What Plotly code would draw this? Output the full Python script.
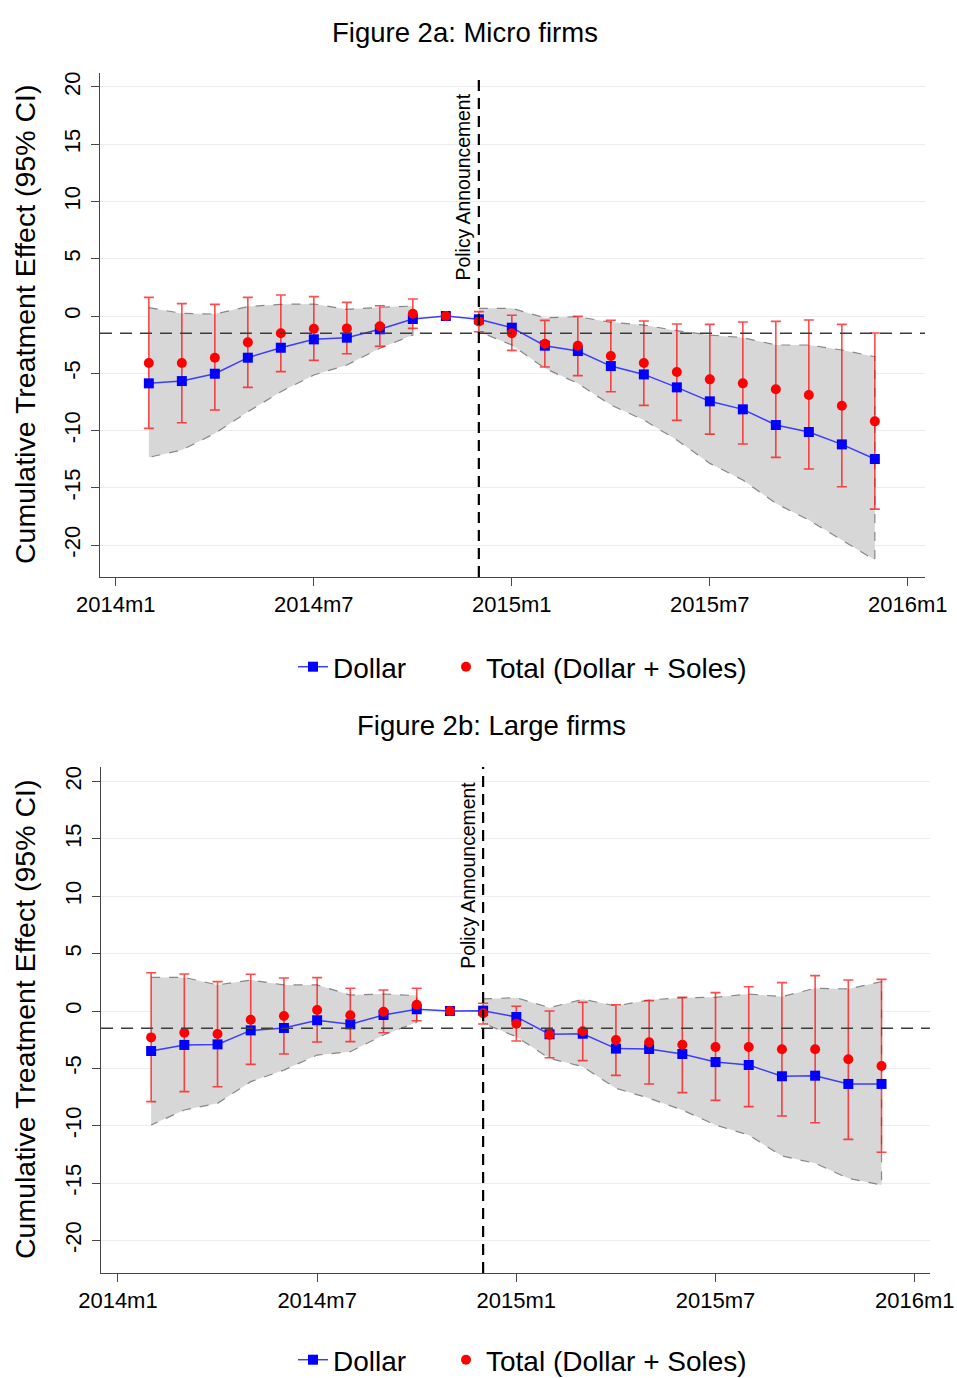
import plotly.graph_objects as go

# ---------------- data ----------------
months = ["2014m2", "2014m3", "2014m4", "2014m5", "2014m6", "2014m7", "2014m8",
          "2014m9", "2014m10", "2014m11", "2014m12", "2015m1", "2015m2", "2015m3",
          "2015m4", "2015m5", "2015m6", "2015m7", "2015m8", "2015m9", "2015m10",
          "2015m11", "2015m12"]
tick_labels = ["2014m1", "2014m7", "2015m1", "2015m7", "2016m1"]
y_ticks = [-20, -15, -10, -5, 0, 5, 10, 15, 20]
policy_month = "2014m12"
policy_label = "Policy Announcement"
ref_line_value = -1.5

# Figure 2a: Micro firms
micro_dollar = [-5.88, -5.68, -5.04, -3.64, -2.77, -2.04, -1.89, -1.16, -0.26, 0.0,
                -0.29, -1.02, -2.59, -3.06, -4.37, -5.10, -6.23, -7.45, -8.15, -9.52,
                -10.13, -11.21, -12.49]
micro_dollar_lo = [-12.34, -11.70, -10.25, -8.36, -6.61, -5.15, -4.28, -2.82, -1.66, None,
                   -1.37, -2.53, -4.57, -5.88, -7.77, -9.08, -10.83, -12.87, -14.32, -16.36,
                   -17.82, -19.56, -21.31]
micro_dollar_hi = [0.73, 0.23, 0.17, 0.82, 1.02, 1.05, 0.58, 0.76, 0.87, None,
                   0.67, 0.67, -0.15, -0.06, -0.55, -0.79, -1.28, -1.66, -1.89, -2.53,
                   -2.53, -2.97, -3.55]
micro_total = [-4.10, -4.10, -3.64, -2.30, -1.51, -1.11, -1.08, -0.90, 0.20, 0.0,
               -0.47, -1.51, -2.42, -2.59, -3.49, -4.10, -4.89, -5.53, -5.88, -6.40,
               -6.90, -7.83, -9.20]
micro_total_lo = [-9.81, -9.32, -8.21, -6.23, -4.86, -3.87, -3.29, -2.65, -1.08, None,
                  -1.37, -3.00, -4.45, -5.21, -6.61, -7.80, -9.11, -10.31, -11.18, -12.34,
                  -13.36, -14.91, -16.86]
micro_total_hi = [1.63, 1.08, 1.02, 1.63, 1.83, 1.69, 1.19, 0.90, 1.48, None,
                  0.38, 0.06, -0.38, -0.03, -0.38, -0.44, -0.70, -0.73, -0.52, -0.47,
                  -0.35, -0.73, -1.48]

# Figure 2b: Large firms
large_dollar = [-3.49, -2.96, -2.91, -1.69, -1.48, -0.81, -1.16, -0.35, 0.15, 0.0,
                0.03, -0.52, -2.03, -1.98, -3.28, -3.31, -3.75, -4.45, -4.71, -5.69,
                -5.64, -6.36, -6.36]
large_dollar_lo = [-9.94, -8.63, -8.05, -6.16, -5.15, -3.84, -3.55, -2.09, -0.99, None,
                   -1.07, -2.24, -4.13, -4.85, -6.74, -7.61, -8.63, -9.94, -10.81, -12.64,
                   -13.28, -14.59, -15.17]
large_dollar_hi = [2.93, 2.93, 2.27, 2.70, 2.27, 2.27, 1.39, 1.48, 1.34, None,
                   1.05, 1.16, 0.29, 1.02, 0.44, 0.96, 1.16, 1.19, 1.48, 1.25,
                   1.98, 1.92, 2.56]
large_total = [-2.30, -1.89, -2.01, -0.76, -0.44, 0.09, -0.38, -0.06, 0.55, 0.0,
               -0.20, -1.11, -2.06, -1.77, -2.53, -2.73, -2.94, -3.14, -3.14, -3.34,
               -3.34, -4.21, -4.80]
large_total_lo = [-7.90, -7.03, -6.60, -4.65, -3.75, -2.70, -2.67, -1.89, -0.85, None,
                  -1.13, -2.62, -4.07, -4.33, -5.61, -6.36, -7.12, -7.79, -8.34, -9.15,
                  -9.74, -11.19, -12.32]
large_total_hi = [3.34, 3.23, 2.56, 3.20, 2.88, 2.91, 1.98, 1.83, 1.98, None,
                  0.67, 0.41, 0.00, 0.76, 0.55, 0.90, 1.19, 1.60, 2.12, 2.47,
                  3.08, 2.70, 2.76]

titles = ["Figure 2a: Micro firms", "Figure 2b: Large firms"]
y_title = "Cumulative Treatment Effect (95% CI)"
series_names = ["Dollar", "Total (Dollar + Soles)"]


def month_index(s):
    y, m = s.split("m")
    return (int(y) - 2014) * 12 + int(m) - 1


x = [month_index(m) for m in months]
tickvals = [month_index(t) for t in tick_labels]
x_policy = month_index(policy_month)

FONT = "Arial, Liberation Sans, sans-serif"
fig = go.Figure()


def segments(xs, lo, hi):
    segs, cur = [], []
    for xi, l, h in zip(xs, lo, hi):
        if l is None or h is None:
            if cur:
                segs.append(cur)
            cur = []
        else:
            cur.append((xi, l, h))
    if cur:
        segs.append(cur)
    return segs


panels = [
    dict(d=micro_dollar, dlo=micro_dollar_lo, dhi=micro_dollar_hi,
         t=micro_total, tlo=micro_total_lo, thi=micro_total_hi,
         xa="x", ya="y", legends=("legend", "legend3")),
    dict(d=large_dollar, dlo=large_dollar_lo, dhi=large_dollar_hi,
         t=large_total, tlo=large_total_lo, thi=large_total_hi,
         xa="x2", ya="y2", legends=("legend2", "legend4")),
]

for p in panels:
    # shaded CI band for Dollar
    for seg in segments(x, p["dlo"], p["dhi"]):
        xs = [s[0] for s in seg]
        los = [s[1] for s in seg]
        his = [s[2] for s in seg]
        fig.add_trace(go.Scatter(
            x=xs + xs[::-1], y=his + los[::-1], fill="toself",
            fillcolor="rgb(215,215,215)", mode="lines",
            line=dict(color="rgb(135,135,135)", width=1.2, dash="dash"),
            hoverinfo="skip", showlegend=False, xaxis=p["xa"], yaxis=p["ya"]))
    # error bars for Total
    plus = [None if h is None else h - v for v, h in zip(p["t"], p["thi"])]
    minus = [None if l is None else v - l for v, l in zip(p["t"], p["tlo"])]
    fig.add_trace(go.Scatter(
        x=x, y=p["t"], mode="markers",
        marker=dict(size=1, color="rgba(0,0,0,0)"),
        error_y=dict(type="data", array=plus, arrayminus=minus, symmetric=False,
                     color="rgba(255,0,0,0.7)", thickness=1.6, width=5),
        hoverinfo="skip", showlegend=False, xaxis=p["xa"], yaxis=p["ya"]))
    # Dollar line
    fig.add_trace(go.Scatter(
        x=x, y=p["d"], mode="lines+markers", name=series_names[0],
        line=dict(color="rgb(60,60,255)", width=1.5),
        marker=dict(symbol="square", size=10, color="rgb(0,0,255)"),
        legend=p["legends"][0], xaxis=p["xa"], yaxis=p["ya"]))
    # Total points
    fig.add_trace(go.Scatter(
        x=x, y=p["t"], mode="markers", name=series_names[1],
        marker=dict(symbol="circle", size=10, color="rgb(255,0,0)"),
        legend=p["legends"][1], xaxis=p["xa"], yaxis=p["ya"]))

W, H = 957, 1378
# pixel boxes of the two plot areas (left, right, top, bottom)
boxes = [(100, 925, 73, 577), (101, 930, 767, 1273)]
yranges = [[-22.79, 21.22], [-22.84, 21.27]]
xranges = [[-0.48, 24.52], [-0.51, 24.46]]

axis_common = dict(showline=True, linecolor="rgb(70,70,70)", linewidth=1,
                   ticks="outside", ticklen=8, tickcolor="rgb(70,70,70)",
                   tickfont=dict(family=FONT, size=22, color="black"),
                   automargin=False, zeroline=False)

layout = dict(width=W, height=H, margin=dict(l=0, r=0, t=0, b=0, autoexpand=False),
              paper_bgcolor="white", plot_bgcolor="white",
              font=dict(family=FONT, color="black"))

for i, (l, r, t, b) in enumerate(boxes):
    sfx = "" if i == 0 else str(i + 1)
    layout["xaxis" + sfx] = dict(axis_common, domain=[l / W, r / W], range=xranges[i],
                                 tickvals=tickvals, ticktext=tick_labels,
                                 showgrid=False, anchor="y" + sfx, ticklabelstandoff=0)
    layout["yaxis" + sfx] = dict(axis_common, domain=[1 - b / H, 1 - t / H], range=yranges[i],
                                 tickvals=y_ticks, ticktext=[str(v) for v in y_ticks],
                                 tickangle=-90, showgrid=True, gridcolor="rgb(236,236,236)",
                                 gridwidth=1, anchor="x" + sfx, ticklabelstandoff=2)

# legend rows: (y pixel) ; entries: Dollar starts at x=293, Total at x=446
legend_rows = [667, 1360]
legend_x = [293, 446]
for i, ly in enumerate(legend_rows):
    for j, lx in enumerate(legend_x):
        n = 1 + i + 2 * j
        key = "legend" if n == 1 else "legend%d" % n
        layout[key] = dict(orientation="h", x=lx / W, xanchor="left", y=1 - ly / H,
                           yanchor="middle", font=dict(family=FONT, size=28, color="black"),
                           bgcolor="rgba(0,0,0,0)", itemwidth=30)

fig.update_layout(**layout)

annotations = []
shapes = []
title_pos = [(465, 32), (491, 725)]
policy_y = [11.3, 11.8]
for i, (l, r, t, b) in enumerate(boxes):
    sfx = "" if i == 0 else str(i + 1)
    annotations.append(dict(text=titles[i], xref="paper", yref="paper",
                            x=title_pos[i][0] / W, y=1 - title_pos[i][1] / H,
                            xanchor="center", yanchor="middle", showarrow=False,
                            font=dict(family=FONT, size=27.5, color="black")))
    annotations.append(dict(text=y_title, xref="paper", yref="paper", textangle=-90,
                            x=25 / W, y=1 - (t + b) / 2 / H, xanchor="center",
                            yanchor="middle", showarrow=False,
                            font=dict(family=FONT, size=28.5, color="black")))
    annotations.append(dict(text=policy_label, xref="x" + sfx, yref="y" + sfx,
                            textangle=-90, x=x_policy, y=policy_y[i], xanchor="right",
                            yanchor="middle", xshift=-3, showarrow=False,
                            font=dict(family=FONT, size=19.4, color="black")))
    shapes.append(dict(type="line", xref="x" + sfx + " domain" if sfx else "x domain",
                       yref="y" + sfx, x0=0, x1=1, y0=ref_line_value, y1=ref_line_value,
                       line=dict(color="rgb(60,60,60)", width=1.5, dash="12px,8px"),
                       layer="above"))
    shapes.append(dict(type="line", xref="x" + sfx,
                       yref="y" + sfx + " domain" if sfx else "y domain",
                       x0=x_policy, x1=x_policy, y0=0, y1=1,
                       line=dict(color="black", width=2.2, dash="11px,7px"),
                       layer="above"))

fig.update_layout(annotations=annotations, shapes=shapes)
fig.write_html("out.html", config={"displayModeBar": False},
               post_script="document.body.style.margin='0';document.body.style.overflow='hidden';")
